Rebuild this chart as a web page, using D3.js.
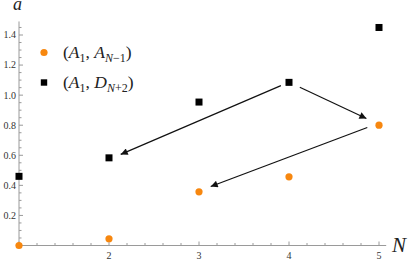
<!DOCTYPE html>
<html><head><meta charset="utf-8">
<script src="https://cdn.jsdelivr.net/npm/d3@7"></script>
<style>body{margin:0;background:#fff}svg{display:block}</style>
</head><body><svg id="c" width="411" height="261"></svg>
<script>
const nValues = [1, 2, 3, 4, 5];
const seriesA = [0.00, 0.045, 0.357, 0.457, 0.80];   // (A1, A_{N-1})
const seriesD = [0.46, 0.583, 0.954, 1.085, 1.45];   // (A1, D_{N+2})
const xTickLabels = [2, 3, 4, 5];
const yTickLabels = [0.2, 0.4, 0.6, 0.8, 1.0, 1.2, 1.4];
const arrows = [
  {x1: 3.91, y1: 1.063, x2: 2.13, y2: 0.606},
  {x1: 4.12, y1: 1.052, x2: 4.86, y2: 0.845},
  {x1: 4.87, y1: 0.785, x2: 3.13, y2: 0.392}
];

const svg = d3.select("#c");
const x = d3.scaleLinear().domain([1, 5]).range([19, 379]);
const y = d3.scaleLinear().domain([0, 1.4]).range([245.5, 35]);
const axisColor = "#9a9a9a";
const font = "'Liberation Serif', 'DejaVu Serif', serif";

// x axis
const xAxisG = svg.append("g").attr("transform", `translate(0,${y(0)})`);
xAxisG.append("line").attr("x1", x(1)).attr("x2", x(5.08)).attr("stroke", axisColor);
const xMinor = d3.range(1, 5.01, 0.2).map(v => +v.toFixed(2));
xAxisG.selectAll(".xm").data(xMinor).join("line")
  .attr("x1", d => x(d)).attr("x2", d => x(d))
  .attr("y1", 0).attr("y2", d => Number.isInteger(d) ? -4 : -2.5)
  .attr("stroke", axisColor);
xAxisG.selectAll(".xl").data(xTickLabels).join("text")
  .attr("x", d => x(d)).attr("y", 13).attr("text-anchor", "middle")
  .attr("font-family", font).attr("font-size", 10).attr("fill", "#333")
  .text(d => d);

// y axis
const yAxisG = svg.append("g").attr("transform", `translate(${x(1)},0)`);
yAxisG.append("line").attr("y1", y(0)).attr("y2", y(1.49)).attr("stroke", axisColor);
const yMinor = d3.range(0, 1.46, 0.05).map(v => +v.toFixed(2));
yAxisG.selectAll(".ym").data(yMinor).join("line")
  .attr("y1", d => y(d)).attr("y2", d => y(d))
  .attr("x1", 0).attr("x2", d => Math.abs(Math.round(d*5) - d*5) < 1e-6 ? 4 : 2.5)
  .attr("stroke", axisColor);
yAxisG.selectAll(".yl").data(yTickLabels).join("text")
  .attr("x", -3).attr("y", d => y(d) + 3.4).attr("text-anchor", "end")
  .attr("font-family", font).attr("font-size", 10).attr("fill", "#333")
  .text(d => d.toFixed(1));

// axis titles
svg.append("text").attr("x", 13).attr("y", 10).attr("font-family", font)
  .attr("font-style", "italic").attr("font-size", 18).attr("fill", "#222").text("a");
svg.append("text").attr("x", 392).attr("y", 252).attr("font-family", font)
  .attr("font-style", "italic").attr("font-size", 21).attr("fill", "#222").text("N");

// arrowhead
svg.append("defs").append("marker").attr("id", "ah")
  .attr("viewBox", "0 0 10 10").attr("refX", 10).attr("refY", 5)
  .attr("markerWidth", 9).attr("markerHeight", 7).attr("markerUnits", "userSpaceOnUse")
  .attr("orient", "auto")
  .append("path").attr("d", "M0,0 L10,5 L0,10 Z").attr("fill", "#111");

svg.selectAll(".arr").data(arrows).join("line")
  .attr("x1", d => x(d.x1)).attr("y1", d => y(d.y1))
  .attr("x2", d => x(d.x2)).attr("y2", d => y(d.y2))
  .attr("stroke", "#111").attr("stroke-width", 1.2).attr("marker-end", "url(#ah)");

// points
const orange = "#f7870f";
svg.selectAll(".pa").data(nValues).join("circle")
  .attr("cx", d => x(d)).attr("cy", (d, i) => y(seriesA[i])).attr("r", 3.6)
  .attr("fill", orange);
const sq = 7;
svg.selectAll(".pd").data(nValues).join("rect")
  .attr("x", d => x(d) - sq/2).attr("y", (d, i) => y(seriesD[i]) - sq/2)
  .attr("width", sq).attr("height", sq).attr("fill", "#000");

// legend
const lg = svg.append("g");
lg.append("circle").attr("cx", 44).attr("cy", 52.5).attr("r", 3.6).attr("fill", orange);
lg.append("rect").attr("x", 44 - 3.2).attr("y", 82.5 - 3.2).attr("width", 6.4).attr("height", 6.4).attr("fill", "#000");

function legendText(yy, letter, subParts) {
  const t = lg.append("text").attr("x", 63).attr("y", yy)
    .attr("font-family", font).attr("font-size", 17.5).attr("fill", "#222");
  t.append("tspan").text("(");
  t.append("tspan").attr("font-style", "italic").text("A");
  t.append("tspan").attr("font-size", 12).attr("dy", 3.5).text("1");
  t.append("tspan").attr("dy", -3.5).text(", ");
  t.append("tspan").attr("font-style", "italic").text(letter);
  t.append("tspan").attr("font-size", 12).attr("dy", 3.5).attr("font-style", "italic").text("N");
  t.append("tspan").attr("font-size", 12).text(subParts);
  t.append("tspan").attr("dy", -3.5).text(")");
}
legendText(58, "A", "\u22121");
legendText(88, "D", "+2");
</script></body></html>
